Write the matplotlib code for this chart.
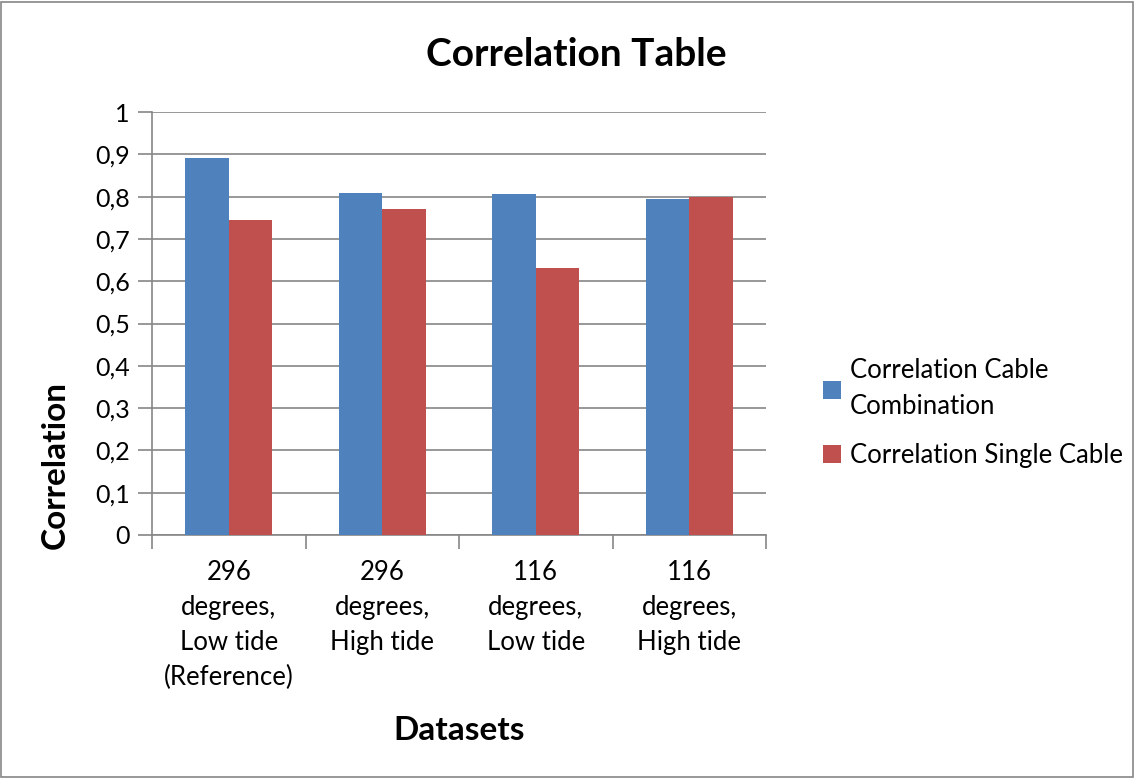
import matplotlib.pyplot as plt
import numpy as np
from matplotlib.patches import Rectangle

plt.rcParams['font.family'] = ['Lato', 'DejaVu Sans']

categories = ["296\ndegrees,\nLow tide\n(Reference)", "296\ndegrees,\nHigh tide",
              "116\ndegrees,\nLow tide", "116\ndegrees,\nHigh tide"]
combination = [0.892, 0.808, 0.806, 0.794]
single = [0.745, 0.770, 0.631, 0.798]
series_names = ["Correlation Cable\nCombination", "Correlation Single Cable"]
yticks = [0, 0.1, 0.2, 0.3, 0.4, 0.5, 0.6, 0.7, 0.8, 0.9, 1]
ytick_labels = ["0", "0,1", "0,2", "0,3", "0,4", "0,5", "0,6", "0,7", "0,8", "0,9", "1"]

blue = "#4f81bd"
red = "#c0504d"
grid = "#868686"

fig = plt.figure(figsize=(11.35, 7.78), dpi=100)
ax = fig.add_axes([152 / 1135, 1 - 535 / 778, (766 - 152) / 1135, (535 - 112) / 778])

x = np.arange(len(categories))
w = 0.283
ax.bar(x - w / 2, combination, w, color=blue, label=series_names[0], zorder=3)
ax.bar(x + w / 2, single, w, color=red, label=series_names[1], zorder=3)

ax.set_xlim(-0.5, len(categories) - 0.5)
ax.set_ylim(0, 1)
ax.set_yticks(yticks)
ax.set_yticklabels(ytick_labels, fontsize=18)
ax.yaxis.grid(True, color=grid, linewidth=1.2, zorder=0)
ax.set_axisbelow(True)

# category labels at centers, tick marks at boundaries
ax.set_xticks(x)
ax.set_xticklabels(categories, fontsize=18.5, linespacing=1.5, va="top")
ax.tick_params(axis="x", length=0, pad=18)
ax.set_xticks(np.arange(-0.5, len(categories)), minor=True)
ax.tick_params(axis="x", which="minor", length=10, color=grid, width=1.2)
ax.tick_params(axis="y", length=10, color=grid, width=1.2, pad=6)

for s in ["top", "right"]:
    ax.spines[s].set_visible(False)
for s in ["left", "bottom"]:
    ax.spines[s].set_color(grid)
    ax.spines[s].set_linewidth(1.2)

fig.text(576 / 1135, 1 - 55 / 778, "Correlation Table", fontsize=28, fontweight="bold",
         ha="center", va="center")
fig.text(459 / 1135, 1 - 730 / 778, "Datasets", fontsize=24, fontweight="bold",
         ha="center", va="center")
fig.text(55 / 1135, 1 - 465 / 778, "Correlation", fontsize=24, fontweight="bold",
         ha="center", va="center", rotation=90)

leg = fig.legend(loc="center left", bbox_to_anchor=(800 / 1135, 1 - 413 / 778), frameon=False,
                 fontsize=18.5, handlelength=0.7, handleheight=0.7, handletextpad=0.35,
                 labelspacing=0.9)
for t in leg.get_texts():
    t.set_linespacing(1.55)

fig.patches.append(Rectangle((0.001, 0.001), 0.997, 0.997, transform=fig.transFigure,
                             fill=False, edgecolor=grid, linewidth=1.2))

fig.savefig("out.png", dpi=100)
